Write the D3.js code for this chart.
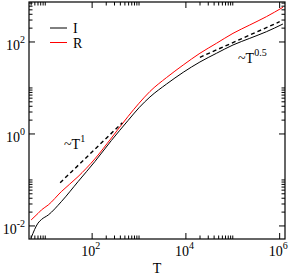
<!DOCTYPE html>
<html>
<head>
<meta charset="utf-8">
<script src="https://cdn.jsdelivr.net/npm/d3@7"></script>
<style>
  body { margin: 0; background: #fff; }
</style>
</head>
<body>
<div id="chart"></div>
<script>
// values
const tValues = [5, 7, 8.3, 11.6, 22, 50, 114, 258, 583, 1000, 1710, 3880, 8770, 19900, 45000, 101000, 230000, 521000, 1175000]
const iValues = [0.0055, 0.0115, 0.0138, 0.0173, 0.0337, 0.0918, 0.25, 0.723, 1.96, 3.72, 6.37, 12.2, 21.9, 36.7, 56.8, 86, 120, 167, 246]
const rValues = [0.0135, 0.0187, 0.0223, 0.0286, 0.0557, 0.118, 0.286, 0.818, 2.4, 4.65, 8.4, 16.9, 31.6, 56.8, 93.7, 154, 234, 355, 568]

// guide lines ~T^1 and ~T^0.5 (end points)
const guideT1 = [[20.8, 0.087], [440, 1.75]]
const guideT05 = [[19900, 46.4], [1000000, 276]]

const xTickExps = [2, 4, 6]
const yTickExps = [-2, 0, 2]
const seriesNames = ["I", "R"]

const width = 291
const height = 275
const plotL = 29, plotR = 285, plotT = 2, plotB = 239
const serif = "'Liberation Serif', 'Times New Roman', 'DejaVu Serif', serif"

const svg = d3.select("#chart")
    .append("svg")
    .attr("width", width)
    .attr("height", height)
    .attr("font-family", serif)

const x = d3.scaleLog()
    .domain([4.5, 1.3e6])
    .range([plotL, plotR])

const y = d3.scaleLog()
    .domain([0.0052, 740])
    .range([plotB, plotT])

const color = d3.scaleOrdinal()
    .domain(seriesNames)
    .range(["#000000", "#ff0000"])

// minor ticks: k*10^m, k = 2..10
function minors(exps, scale) {
    const [d0, d1] = scale.domain()
    const out = []
    exps.forEach(m => {
        for (let k = 2; k <= 10; k++) {
            const v = k * Math.pow(10, m)
            if (v >= d0 && v <= d1) out.push(v)
        }
    })
    return out
}

const xMajor = xTickExps.map(e => Math.pow(10, e))
const yMajor = yTickExps.map(e => Math.pow(10, e))
const xMinor = minors([0, 2, 4], x)
const yMinor = minors([-2, 0, 2], y)

const ticks = svg.append("g")
    .attr("stroke", "#000")
    .attr("stroke-width", 1)

// bottom + top ticks
const xt = xMajor.map(v => ({v, len: 6})).concat(xMinor.map(v => ({v, len: 3.5})))
ticks.selectAll(".xb").data(xt).join("line").attr("class", "xb")
    .attr("x1", d => x(d.v)).attr("x2", d => x(d.v))
    .attr("y1", plotB).attr("y2", d => plotB - d.len)
ticks.selectAll(".xt").data(xt).join("line").attr("class", "xt")
    .attr("x1", d => x(d.v)).attr("x2", d => x(d.v))
    .attr("y1", plotT).attr("y2", d => plotT + d.len)

// left + right ticks
const yt = yMajor.map(v => ({v, len: 6})).concat(yMinor.map(v => ({v, len: 3.5})))
ticks.selectAll(".yl").data(yt).join("line").attr("class", "yl")
    .attr("y1", d => y(d.v)).attr("y2", d => y(d.v))
    .attr("x1", plotL).attr("x2", d => plotL + d.len)
ticks.selectAll(".yr").data(yt).join("line").attr("class", "yr")
    .attr("y1", d => y(d.v)).attr("y2", d => y(d.v))
    .attr("x1", plotR).attr("x2", d => plotR - d.len)

// frame
svg.append("rect")
    .attr("x", plotL).attr("y", plotT)
    .attr("width", plotR - plotL).attr("height", plotB - plotT)
    .attr("fill", "none")
    .attr("stroke", "#000")
    .attr("stroke-width", 1.2)

// tick labels
function powLabel(sel, e) {
    sel.append("tspan").text("10")
    sel.append("tspan")
        .attr("dy", -7)
        .attr("font-size", 10)
        .text(e)
}

svg.selectAll(".xlab").data(xTickExps).join("text").attr("class", "xlab")
    .attr("x", d => x(Math.pow(10, d)) - 1.5)
    .attr("y", 256)
    .attr("text-anchor", "middle")
    .attr("font-size", 14)
    .each(function(d) { powLabel(d3.select(this), d) })

svg.selectAll(".ylab").data(yTickExps).join("text").attr("class", "ylab")
    .attr("x", 25)
    .attr("y", d => y(Math.pow(10, d)) + 8)
    .attr("text-anchor", "end")
    .attr("font-size", 14)
    .each(function(d) { powLabel(d3.select(this), d) })

svg.append("text")
    .attr("x", (plotL + plotR) / 2)
    .attr("y", 273)
    .attr("text-anchor", "middle")
    .attr("font-size", 14)
    .text("T")

// curves
const line = d3.line()
    .x(d => x(d[0]))
    .y(d => y(d[1]))

const smooth = d3.line()
    .x(d => x(d[0]))
    .y(d => y(d[1]))
    .curve(d3.curveMonotoneX)

const plot = svg.append("g")

const series = [
    {name: "I", values: iValues},
    {name: "R", values: rValues}
]

plot.selectAll(".curve").data(series).join("path").attr("class", "curve")
    .attr("d", s => smooth(tValues.map((t, i) => [t, s.values[i]])))
    .attr("fill", "none")
    .attr("stroke", s => color(s.name))
    .attr("stroke-width", 1)

plot.selectAll(".guide").data([guideT1, guideT05]).join("path").attr("class", "guide")
    .attr("d", line)
    .attr("fill", "none")
    .attr("stroke", "#000")
    .attr("stroke-width", 1.4)
    .attr("stroke-dasharray", "4,3")

// guide labels
const g1 = svg.append("text").attr("x", 64).attr("y", 149).attr("font-size", 14)
g1.append("tspan").text("~T")
g1.append("tspan").attr("dy", -7).attr("font-size", 10).text("1")

const g2 = svg.append("text").attr("x", 238).attr("y", 63).attr("font-size", 14)
g2.append("tspan").text("~T")
g2.append("tspan").attr("dy", -7).attr("font-size", 10).text("0.5")

// legend
const legend = svg.append("g")
legend.selectAll("line").data(seriesNames).join("line")
    .attr("x1", 50).attr("x2", 67)
    .attr("y1", (d, i) => 28 + i * 14.5)
    .attr("y2", (d, i) => 28 + i * 14.5)
    .attr("stroke", d => color(d))
    .attr("stroke-width", 1)
legend.selectAll("text").data(seriesNames).join("text")
    .attr("x", 73)
    .attr("y", (d, i) => 33 + i * 14.5)
    .attr("font-size", 14)
    .text(d => d)
</script>
</body>
</html>
